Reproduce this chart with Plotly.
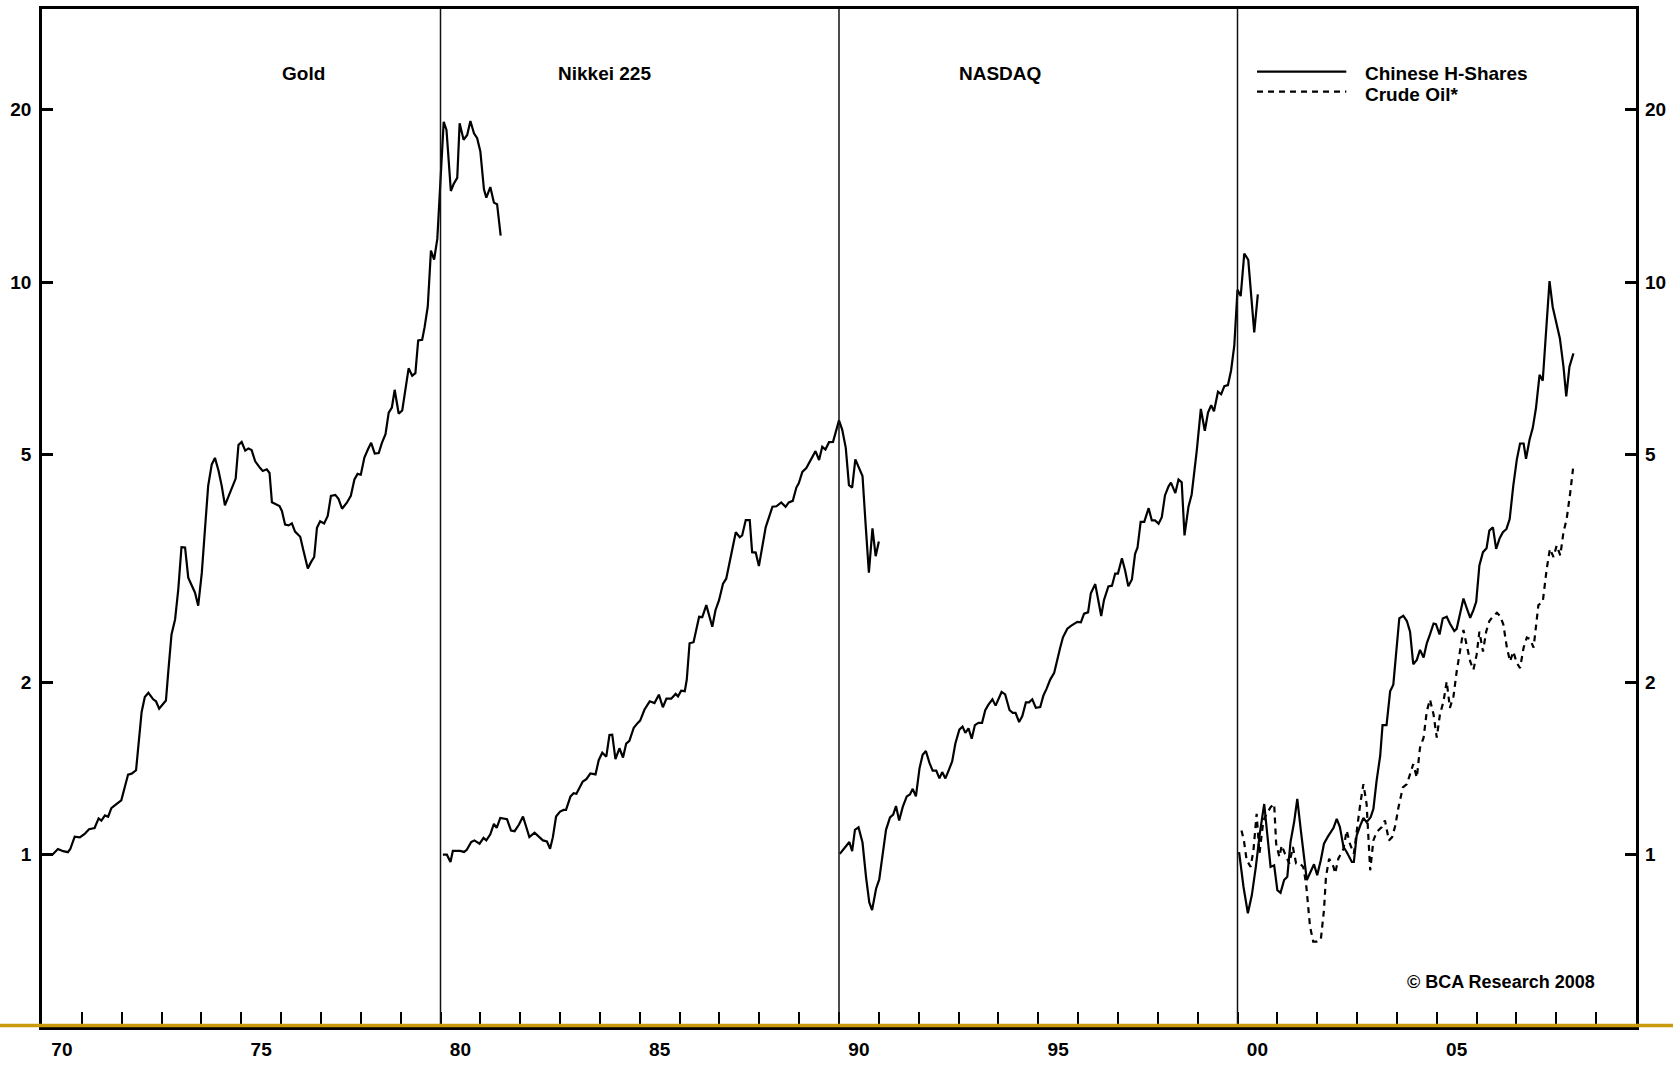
import math
import plotly.graph_objects as go

# ---------------- data ----------------
gold_t = [1970.03, 1970.26, 1970.40, 1970.53, 1970.65, 1970.71, 1970.82, 1970.95,
          1971.07, 1971.18, 1971.32, 1971.42, 1971.49, 1971.58, 1971.66, 1971.74, 1971.85, 1971.99,
          1972.16, 1972.25, 1972.36, 1972.50, 1972.58, 1972.67, 1972.79, 1972.86, 1972.94,
          1973.11, 1973.17, 1973.25, 1973.34, 1973.42, 1973.50, 1973.59, 1973.67, 1973.76, 1973.84, 1973.92,
          1974.01, 1974.09, 1974.17, 1974.26, 1974.34, 1974.43, 1974.51, 1974.59, 1974.68, 1974.79, 1974.86, 1974.93,
          1975.01, 1975.10, 1975.18, 1975.26, 1975.35, 1975.47, 1975.54, 1975.64, 1975.71, 1975.77, 1975.89, 1975.96,
          1976.02, 1976.10, 1976.19, 1976.27, 1976.35, 1976.48, 1976.56, 1976.67, 1976.75, 1976.83, 1976.90, 1976.98,
          1977.08, 1977.17, 1977.25, 1977.36, 1977.44, 1977.53, 1977.65, 1977.75, 1977.84, 1977.92,
          1978.00, 1978.09, 1978.18, 1978.26, 1978.35, 1978.45, 1978.53, 1978.62, 1978.70, 1978.78, 1978.85, 1978.95,
          1979.04, 1979.12, 1979.20, 1979.29, 1979.37, 1979.44, 1979.54, 1979.60, 1979.68, 1979.76, 1979.84, 1979.92,
          1980.08, 1980.15, 1980.26, 1980.33, 1980.42, 1980.48, 1980.58, 1980.67, 1980.75, 1980.84, 1980.92,
          1981.00, 1981.09, 1981.15, 1981.25, 1981.34, 1981.42, 1981.51]
gold_v = [1.0, 1.0, 1.023, 1.014, 1.01, 1.023, 1.075, 1.072,
          1.087, 1.108, 1.113, 1.157, 1.147, 1.171, 1.165, 1.206, 1.223, 1.244,
          1.38, 1.385, 1.404, 1.775, 1.886, 1.918, 1.868, 1.853, 1.799,
          1.859, 2.092, 2.424, 2.576, 2.908, 3.445, 3.44, 3.047, 2.958, 2.868, 2.722,
          3.105, 3.706, 4.407, 4.805, 4.932, 4.682, 4.407, 4.076, 4.22, 4.384, 4.539, 5.195,
          5.258, 5.079, 5.123, 5.09, 4.864, 4.739, 4.68, 4.71, 4.642, 4.126, 4.091, 4.063,
          3.985, 3.771, 3.76, 3.79, 3.667, 3.592, 3.398, 3.16, 3.243, 3.311, 3.725, 3.823,
          3.79, 3.904, 4.234, 4.25, 4.183, 4.02, 4.119, 4.234, 4.523, 4.626,
          4.61, 4.94, 5.105, 5.241, 5.019, 5.03, 5.24, 5.425, 5.916, 6.04, 6.486, 5.895,
          5.968, 6.452, 7.071, 6.865, 6.937, 7.913, 7.93, 8.337, 9.06, 11.35, 10.95, 11.9,
          19.06, 18.45, 14.43, 14.84, 15.21, 18.94, 17.73, 18.08, 19.12, 18.2, 17.84,
          16.92, 14.53, 14.05, 14.66, 13.77, 13.68, 12.06]

nikkei_t = [1980.06, 1980.16, 1980.25, 1980.31, 1980.39, 1980.49, 1980.59, 1980.66, 1980.77, 1980.85, 1980.98,
            1981.08, 1981.15, 1981.25, 1981.34, 1981.41, 1981.50, 1981.67, 1981.77, 1981.86, 1981.97,
            1982.07, 1982.23, 1982.36, 1982.57, 1982.67, 1982.75, 1982.82, 1982.90,
            1983.00, 1983.09, 1983.15, 1983.26, 1983.34, 1983.41, 1983.57, 1983.66, 1983.76, 1983.89, 1983.97,
            1984.06, 1984.16, 1984.24, 1984.31, 1984.39, 1984.49, 1984.58, 1984.66, 1984.74, 1984.85, 1984.95,
            1985.01, 1985.12, 1985.25, 1985.37, 1985.48, 1985.58, 1985.67, 1985.79, 1985.90, 1985.96,
            1986.04, 1986.13, 1986.18, 1986.25, 1986.35, 1986.49, 1986.57, 1986.67, 1986.82, 1986.90, 1986.99,
            1987.09, 1987.17, 1987.41, 1987.51, 1987.57, 1987.66, 1987.76, 1987.82, 1987.91, 1987.99,
            1988.16, 1988.33, 1988.43, 1988.55, 1988.66, 1988.74, 1988.84, 1988.93, 1988.99,
            1989.08, 1989.18, 1989.33, 1989.41, 1989.50, 1989.58, 1989.66, 1989.75, 1989.85,
            1990.00, 1990.08, 1990.17, 1990.25, 1990.33, 1990.41, 1990.50, 1990.59, 1990.67, 1990.75, 1990.84, 1990.92,
            1991.00]
nikkei_v = [1.0, 1.0, 0.971, 1.015, 1.015, 1.015, 1.011, 1.02, 1.052, 1.059, 1.045,
            1.07, 1.059, 1.085, 1.132, 1.114, 1.159, 1.153, 1.102, 1.099, 1.129,
            1.166, 1.073, 1.092, 1.059, 1.055, 1.024, 1.073, 1.166,
            1.189, 1.197, 1.197, 1.263, 1.28, 1.277, 1.342, 1.355, 1.386, 1.381, 1.462,
            1.507, 1.483, 1.618, 1.62, 1.468, 1.534, 1.478, 1.563, 1.58, 1.666, 1.699,
            1.715, 1.793, 1.853, 1.84, 1.903, 1.809, 1.873, 1.873, 1.909, 1.89,
            1.934, 1.93, 2.021, 2.34, 2.35, 2.603, 2.6, 2.728, 2.501, 2.673, 2.783,
            2.975, 3.034, 3.657, 3.584, 3.61, 3.841, 3.841, 3.376, 3.37, 3.192,
            3.731, 4.053, 4.06, 4.124, 4.05, 4.124, 4.15, 4.377, 4.454,
            4.661, 4.736, 4.968, 5.068, 4.89, 5.157, 5.10, 5.254, 5.26,
            5.736, 5.527, 5.135, 4.419, 4.377, 4.902, 4.722, 4.586, 3.755, 3.108, 3.715, 3.322,
            3.523]

nasdaq_t = [1990.02, 1990.18, 1990.26, 1990.33, 1990.40, 1990.49, 1990.59, 1990.68, 1990.76, 1990.83, 1990.93,
            1991.01, 1991.10, 1991.18, 1991.28, 1991.36, 1991.43, 1991.51, 1991.60, 1991.70, 1991.78, 1991.85, 1991.93,
            1992.02, 1992.10, 1992.18, 1992.27, 1992.35, 1992.44, 1992.52, 1992.59, 1992.67, 1992.75, 1992.84, 1992.92,
            1993.02, 1993.10, 1993.17, 1993.25, 1993.33, 1993.41, 1993.50, 1993.59, 1993.67, 1993.75, 1993.85, 1993.93,
            1994.08, 1994.17, 1994.28, 1994.36, 1994.43, 1994.52, 1994.60, 1994.69, 1994.77, 1994.85, 1994.94,
            1995.05, 1995.13, 1995.21, 1995.30, 1995.40, 1995.46, 1995.55, 1995.62, 1995.73, 1995.82, 1995.90, 1995.98,
            1996.07, 1996.15, 1996.25, 1996.32, 1996.43, 1996.49, 1996.58, 1996.65, 1996.76, 1996.85, 1996.93,
            1997.00, 1997.10, 1997.18, 1997.26, 1997.35, 1997.43, 1997.49, 1997.57, 1997.66, 1997.77, 1997.85, 1997.93,
            1998.02, 1998.10, 1998.18, 1998.27, 1998.33, 1998.44, 1998.52, 1998.60, 1998.67, 1998.77, 1998.85, 1998.98,
            1999.08, 1999.18, 1999.26, 1999.34, 1999.41, 1999.51, 1999.59, 1999.67, 1999.76, 1999.84, 1999.92, 1999.97,
            2000.00, 2000.08, 2000.17, 2000.27, 2000.34, 2000.42, 2000.51]
nasdaq_v = [1.003, 1.033, 1.052, 1.014, 1.105, 1.116, 1.05, 0.912, 0.825, 0.800, 0.872,
            0.905, 1.018, 1.105, 1.162, 1.175, 1.216, 1.147, 1.212, 1.264, 1.274, 1.303, 1.264,
            1.415, 1.495, 1.517, 1.447, 1.402, 1.402, 1.359, 1.394, 1.359, 1.402, 1.455, 1.564,
            1.653, 1.674, 1.632, 1.662, 1.594, 1.684, 1.699, 1.699, 1.788, 1.828, 1.868, 1.821,
            1.924, 1.905, 1.788, 1.769, 1.769, 1.705, 1.746, 1.845, 1.845, 1.868, 1.805,
            1.81, 1.897, 1.95, 2.022, 2.078, 2.176, 2.298, 2.397, 2.482, 2.509, 2.532, 2.55,
            2.545, 2.636, 2.65, 2.862, 2.969, 2.83, 2.612, 2.786, 2.942, 2.95, 3.097,
            3.097, 3.293, 3.136, 2.942, 3.024, 3.354, 3.436, 3.814, 3.814, 4.029, 3.835, 3.835,
            3.786, 3.886, 4.241, 4.399, 4.464, 4.281, 4.521, 4.47, 3.612, 4.053, 4.257, 5.093,
            6.005, 5.5, 5.917, 6.095, 5.952, 6.437, 6.37, 6.582, 6.61, 7.017, 7.757, 8.82,
            9.699, 9.454, 11.22, 10.94, 9.489, 8.17, 9.524]

hshares_t = [2000.04, 2000.15, 2000.26, 2000.36, 2000.46, 2000.56, 2000.67, 2000.73, 2000.83, 2000.92,
             2001.00, 2001.08, 2001.17, 2001.25, 2001.33, 2001.42, 2001.50, 2001.59, 2001.67, 2001.74, 2001.82, 2001.92,
             2002.00, 2002.09, 2002.17, 2002.26, 2002.41, 2002.49, 2002.57, 2002.66, 2002.74, 2002.87, 2002.92, 2002.99,
             2003.08, 2003.16, 2003.24, 2003.34, 2003.41, 2003.49, 2003.58, 2003.64, 2003.74, 2003.83, 2003.91,
             2004.00, 2004.06, 2004.16, 2004.25, 2004.33, 2004.41, 2004.50, 2004.58, 2004.67, 2004.75, 2004.83, 2004.92, 2004.98,
             2005.07, 2005.15, 2005.25, 2005.33, 2005.44, 2005.50, 2005.59, 2005.67, 2005.75, 2005.84, 2005.92, 2005.99,
             2006.07, 2006.16, 2006.25, 2006.32, 2006.41, 2006.49, 2006.58, 2006.66, 2006.75, 2006.83, 2006.92,
             2007.01, 2007.09, 2007.18, 2007.24, 2007.33, 2007.41, 2007.49, 2007.58, 2007.66, 2007.74, 2007.83, 2007.91, 2007.99,
             2008.09, 2008.18, 2008.25, 2008.33, 2008.43]
hshares_v = [1.01, 0.879, 0.79, 0.85, 0.952, 1.088, 1.226, 1.124, 0.952, 0.958,
             0.867, 0.858, 0.903, 0.915, 1.052, 1.139, 1.251, 1.102, 0.984, 0.903, 0.929, 0.962,
             0.921, 0.978, 1.045, 1.073, 1.114, 1.155, 1.117, 1.031, 1.011, 0.971, 0.971, 1.08,
             1.124, 1.159, 1.139, 1.162, 1.202, 1.346, 1.487, 1.684, 1.684, 1.929, 1.981,
             2.324, 2.586, 2.614, 2.559, 2.452, 2.151, 2.189, 2.279, 2.21, 2.34, 2.425, 2.534, 2.527,
             2.425, 2.586, 2.604, 2.534, 2.458, 2.48, 2.628, 2.802, 2.698, 2.593, 2.673, 2.765,
             3.2, 3.376, 3.43, 3.681, 3.731, 3.421, 3.571, 3.657, 3.706, 3.857, 4.407,
             4.904, 5.226, 5.226, 4.916, 5.312, 5.565, 6.028, 6.887, 6.73, 8.135, 10.04, 9.05, 8.52,
             7.975, 7.12, 6.315, 7.12, 7.509]

oil_t = [2000.10, 2000.16, 2000.23, 2000.33, 2000.40, 2000.48, 2000.55, 2000.65, 2000.73, 2000.83, 2000.92, 2000.97,
         2001.05, 2001.11, 2001.19, 2001.30, 2001.39, 2001.47, 2001.57, 2001.65, 2001.72, 2001.82, 2001.90, 2001.99,
         2002.09, 2002.17, 2002.22, 2002.30, 2002.41, 2002.45, 2002.53, 2002.66, 2002.74, 2002.82, 2002.92, 2002.99,
         2003.08, 2003.16, 2003.24, 2003.33, 2003.41, 2003.49, 2003.62, 2003.70, 2003.80, 2003.88, 2003.96,
         2004.04, 2004.15, 2004.25, 2004.33, 2004.41, 2004.50, 2004.58, 2004.67, 2004.75, 2004.83, 2004.92,
         2005.00, 2005.08, 2005.17, 2005.25, 2005.33, 2005.42, 2005.50, 2005.59, 2005.67, 2005.75, 2005.84, 2005.92,
         2006.00, 2006.07, 2006.16, 2006.24, 2006.32, 2006.42, 2006.51, 2006.59, 2006.67, 2006.76, 2006.84, 2006.92,
         2007.01, 2007.09, 2007.18, 2007.26, 2007.34, 2007.43, 2007.55, 2007.66, 2007.76, 2007.84, 2007.93,
         2008.01, 2008.10, 2008.18, 2008.26, 2008.35, 2008.42]
oil_v = [1.102, 1.059, 0.978, 0.952, 1.017, 1.178, 1.004, 1.147, 1.178, 1.21, 1.226, 1.045,
         0.991, 1.038, 1.004, 0.965, 1.031, 0.965, 0.965, 0.952, 0.891, 0.749, 0.705, 0.705,
         0.71, 0.8, 0.915, 0.984, 0.952, 0.927, 0.984, 1.024, 1.102, 1.045, 1.004, 1.102,
         1.226, 1.328, 1.226, 0.939, 1.059, 1.095, 1.117, 1.147, 1.059, 1.073, 1.124,
         1.21, 1.311, 1.328, 1.382, 1.439, 1.364, 1.538, 1.601, 1.781, 1.866, 1.757,
         1.601, 1.757, 1.853, 2.007, 1.805, 1.891, 2.089, 2.293, 2.469, 2.324, 2.175, 2.103,
         2.233, 2.452, 2.263, 2.452, 2.559, 2.611, 2.646, 2.611, 2.525, 2.3, 2.175, 2.263,
         2.161, 2.118, 2.3, 2.394, 2.38, 2.3, 2.728, 2.765, 3.158, 3.421, 3.31,
         3.467, 3.332, 3.657, 3.857, 4.29, 4.725]

panel_names = ["Gold", "Nikkei 225", "NASDAQ"]
panel_label_x = [1976.57, 1984.12, 1994.04]
legend_names = ["Chinese H-Shares", "Crude Oil*"]
divider_years = [1980, 1990, 2000]
x_tick_years = list(range(1970, 2011))
x_label_pos = [1970.5, 1975.5, 1980.5, 1985.5, 1990.5, 1995.5, 2000.5, 2005.5]
x_label_text = ["70", "75", "80", "85", "90", "95", "00", "05"]
y_ticks = [1, 2, 5, 10, 20]
y_tick_text = ["1", "2", "5", "10", "20"]
copyright_text = "© BCA Research 2008"

# ---------------- figure ----------------
FONT = "Liberation Sans, Arial, Helvetica, sans-serif"
BOLD = dict(family=FONT, size=19, color="black", weight="bold")
LINE_W = 2.2

fig = go.Figure()
for t, v, nm in [(gold_t, gold_v, "Gold"), (nikkei_t, nikkei_v, "Nikkei 225"),
                 (nasdaq_t, nasdaq_v, "NASDAQ"), (hshares_t, hshares_v, "Chinese H-Shares")]:
    fig.add_trace(go.Scatter(x=t, y=v, mode="lines", name=nm, showlegend=False,
                             line=dict(color="black", width=LINE_W)))
fig.add_trace(go.Scatter(x=oil_t, y=oil_v, mode="lines", name="Crude Oil*", showlegend=False,
                         line=dict(color="black", width=LINE_W, dash="6px,5px")))
# helper (empty) trace to activate the overlay axes for labels
fig.add_trace(go.Scatter(x=[], y=[], xaxis="x2", yaxis="y2", showlegend=False, hoverinfo="skip"))

yr = [math.log10(0.5), math.log10(30)]

fig.update_layout(
    width=1673, height=1066,
    margin=dict(l=42, r=37, t=6, b=36),
    paper_bgcolor="white", plot_bgcolor="white",
    showlegend=False,
    xaxis=dict(range=[1970, 2010], showgrid=False, zeroline=False,
               showline=True, mirror=True, linewidth=2.5, linecolor="black",
               ticks="inside", tickmode="array", tickvals=x_tick_years, ticklen=15,
               tickwidth=2, tickcolor="black", showticklabels=False),
    xaxis2=dict(range=[1970, 2010], overlaying="x", anchor="y", side="bottom",
                showgrid=False, zeroline=False, showline=False, ticks="",
                tickmode="array", tickvals=x_label_pos, ticktext=x_label_text,
                tickfont=BOLD, ticklabelstandoff=9),
    yaxis=dict(type="log", range=yr, showgrid=False, zeroline=False,
               showline=True, mirror="ticks", linewidth=2.5, linecolor="black",
               ticks="inside", tickmode="array", tickvals=y_ticks, ticktext=y_tick_text,
               ticklen=11, tickwidth=2.5, tickcolor="black", tickfont=BOLD,
               ticklabelstandoff=4),
    yaxis2=dict(type="log", range=yr, overlaying="y", anchor="x2", side="right",
                showgrid=False, zeroline=False, showline=False, ticks="",
                tickmode="array", tickvals=y_ticks, ticktext=y_tick_text,
                tickfont=BOLD, ticklabelstandoff=8),
)

shapes = []
for yv in divider_years:
    shapes.append(dict(type="line", xref="x", yref="paper", x0=yv, x1=yv, y0=0, y1=1,
                       line=dict(color="#111111", width=1.5)))
# gold baseline across full width
shapes.append(dict(type="line", xref="paper", yref="paper", x0=-42 / 1594, x1=1631 / 1594,
                   y0=0.0015, y1=0.0015, line=dict(color="#C99A0C", width=3.5), layer="above"))
# legend samples
shapes.append(dict(type="line", xref="x", yref="paper", x0=2000.49, x1=2002.73, y0=0.9385, y1=0.9385,
                   line=dict(color="black", width=LINE_W)))
shapes.append(dict(type="line", xref="x", yref="paper", x0=2000.49, x1=2002.73, y0=0.9189, y1=0.9189,
                   line=dict(color="black", width=LINE_W, dash="6px,5px")))
fig.update_layout(shapes=shapes)

ann = []
for nm, px in zip(panel_names, panel_label_x):
    ann.append(dict(text=nm, x=px, y=0.9366, xref="x", yref="paper", showarrow=False,
                    xanchor="center", yanchor="middle", font=BOLD))
ann.append(dict(text=legend_names[0], x=2003.15, y=0.937, xref="x", yref="paper", showarrow=False,
                xanchor="left", yanchor="middle", font=BOLD))
ann.append(dict(text=legend_names[1], x=2003.15, y=0.9165, xref="x", yref="paper", showarrow=False,
                xanchor="left", yanchor="middle", font=BOLD))
ann.append(dict(text=copyright_text, x=2009.02, y=0.0445, xref="x", yref="paper", showarrow=False,
                xanchor="right", yanchor="middle", font=dict(family=FONT, size=18, color="black", weight="bold")))
fig.update_layout(annotations=ann)

fig.write_html("out.html")
